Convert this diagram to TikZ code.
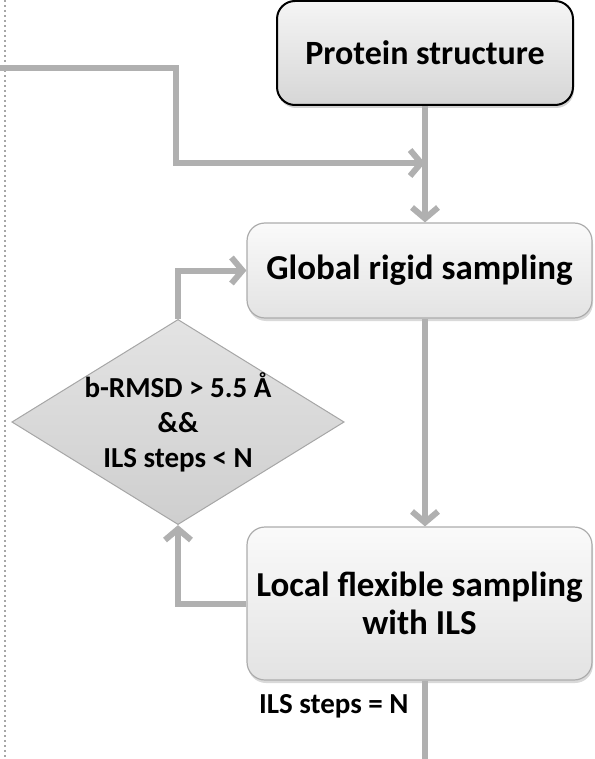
\documentclass[tikz,border=0pt]{standalone}
\usepackage{fontspec}
\setmainfont{Carlito}
\usetikzlibrary{shapes.geometric,arrows.meta,shadows}
\tikzset{
  flow/.style={draw=gray!62, line width=6pt, line join=miter},
  tip/.style={-{Straight Barb[length=11pt,width=26pt,line width=6pt]}},
  startbox/.style={draw=black, line width=2pt, rounded corners=18pt,
    top color=gray!8, bottom color=gray!32, inner sep=0pt,
    drop shadow={opacity=0.35, shadow xshift=1pt, shadow yshift=-3pt},
    font=\fontsize{34}{40}\selectfont\bfseries, align=center},
  stepbox/.style={draw=gray!65, line width=1.2pt, rounded corners=18pt,
    top color=gray!4, bottom color=gray!22, inner sep=0pt,
    drop shadow={opacity=0.3, shadow xshift=1pt, shadow yshift=-3pt},
    font=\fontsize{35}{38}\selectfont\bfseries, align=center},
  test/.style={diamond, draw=gray!70, line width=1pt, aspect=1.62,
    top color=gray!22, bottom color=gray!38, inner sep=-3pt,
    font=\fontsize{29}{35}\selectfont\bfseries, align=center}
}
\begin{document}
\begin{tikzpicture}[x=1pt,y=-1pt]
  \useasboundingbox (0,0) rectangle (594,759);
  \draw[gray!70, line width=2.2pt, dash pattern=on 2pt off 3pt] (5,0) -- (5,759);

  \node[startbox, minimum width=296pt, minimum height=104pt] (protein) at (425,53) {Protein structure};
  \node[stepbox, minimum width=345pt, minimum height=95pt] (global) at (419.5,270.5) {Global rigid sampling};
  \node[stepbox, minimum width=345pt, minimum height=153pt] (local) at (419.5,603.5) {Local flexible sampling\\with ILS};
  \node[test, minimum width=332pt, minimum height=205pt] (cond) at (178,422) {b-RMSD > 5.5 Å\\\&\&\\ILS steps < N};
  \node[font=\fontsize{29}{34}\selectfont\bfseries, anchor=east] (done) at (412,706) {ILS steps = N};

  \coordinate (in) at (0,68);
  \coordinate (merge) at (425,163);
  \coordinate (out) at (425,759);

  \draw[flow, tip] (in) -- (176,68) -- (176,163) -- (merge);
  \draw[flow, tip] (protein.south) -- (global.north -| protein.south);
  \draw[flow, tip] (global.south -| protein.south) -- (local.north -| protein.south);
  \draw[flow] (local.south -| protein.south) -- (out);
  \draw[flow, tip] (local.west) -- (local.west -| cond.south) -- (cond.south);
  \draw[flow, tip] (cond.north) -- (cond.north |- global.west) -- (global.west);
\end{tikzpicture}
\end{document}
